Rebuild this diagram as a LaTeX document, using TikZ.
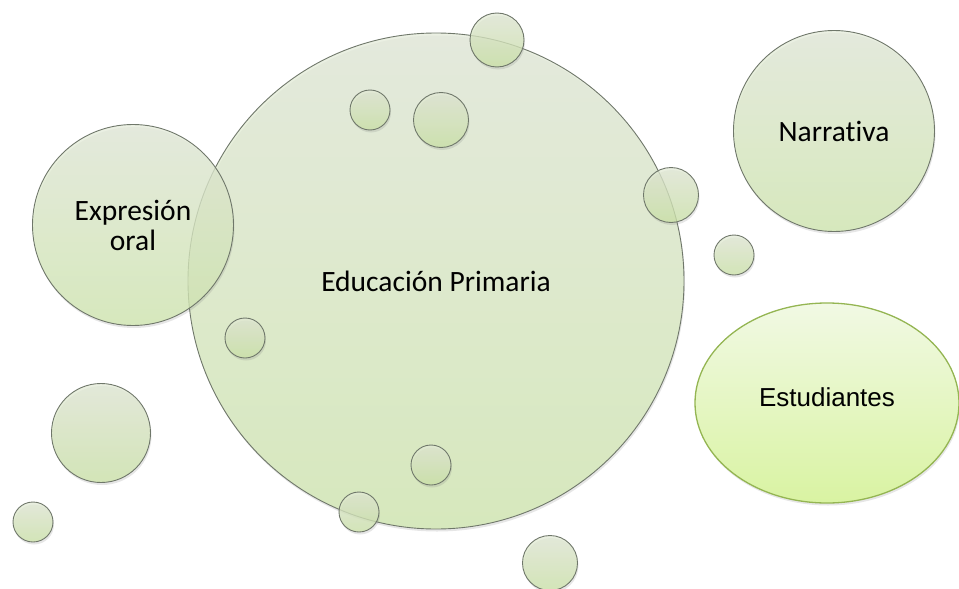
\documentclass[tikz,border=0pt]{standalone}
\usepackage{fontspec}
\newfontfamily\calfont[Ligatures={NoCommon}]{Carlito}
\newfontfamily\arialfont{Liberation Sans}
\usetikzlibrary{shapes.geometric,shadows}
\definecolor{bubtop}{HTML}{E2E9D6}
\definecolor{bubbot}{HTML}{CDE5A8}
\definecolor{bigtop}{HTML}{E4EBDA}
\definecolor{bigbot}{HTML}{D2E9B0}
\definecolor{bubline}{HTML}{6F776A}
\definecolor{esttop}{HTML}{F1F9E4}
\definecolor{estbot}{HTML}{D9F3A2}
\definecolor{estline}{HTML}{94B552}
\tikzset{
  bubble/.style={circle, inner sep=0pt, draw=bubline, line width=0.9pt,
    top color=bubtop, bottom color=bubbot, fill opacity=0.75, text opacity=1,
    drop shadow={opacity=0.2, shadow xshift=1pt, shadow yshift=-2.5pt}},
  bigbubble/.style={bubble, top color=bigtop, bottom color=bigbot},
  lbl/.style={font=\calfont\fontsize{29.5}{34}\selectfont, align=center, text=black},
}
\begin{document}
\begin{tikzpicture}[x=1pt,y=-1pt]
\useasboundingbox (0,0) rectangle (959,589);
% main bubbles
\node[bigbubble, minimum size=496pt, lbl] (edu) at (436,281) {Educación Primaria};
\node[bigbubble, minimum size=201pt, lbl] (expr) at (133,225) {Expresión\\[-4pt]oral};
\node[bigbubble, minimum size=201pt, lbl] (narr) at (834,131) {Narrativa};
\node[ellipse, inner sep=0pt, minimum width=264pt, minimum height=200pt,
  draw=estline, line width=1.3pt, top color=esttop, bottom color=estbot,
  drop shadow={opacity=0.2, shadow xshift=1pt, shadow yshift=-2.5pt},
  font=\arialfont\fontsize{26}{30}\selectfont] (est) at (827,403) {\raisebox{12pt}{Estudiantes}};
% small bubbles
\node[bubble, minimum size=54pt] (b1) at (497,40) {};
\node[bubble, minimum size=40pt] (b2) at (370,110) {};
\node[bubble, minimum size=55pt] (b3) at (441,120) {};
\node[bubble, minimum size=55pt] (b4) at (671,195) {};
\node[bubble, minimum size=40pt] (b5) at (734,255) {};
\node[bubble, minimum size=40pt] (b6) at (245,338) {};
\node[bubble, minimum size=99pt] (b7) at (101,433) {};
\node[bubble, minimum size=40pt] (b8) at (431,465) {};
\node[bubble, minimum size=40pt] (b9) at (359,512) {};
\node[bubble, minimum size=40pt] (b10) at (33,522) {};
\node[bubble, minimum size=55pt] (b11) at (550,563) {};
\end{tikzpicture}
\end{document}
